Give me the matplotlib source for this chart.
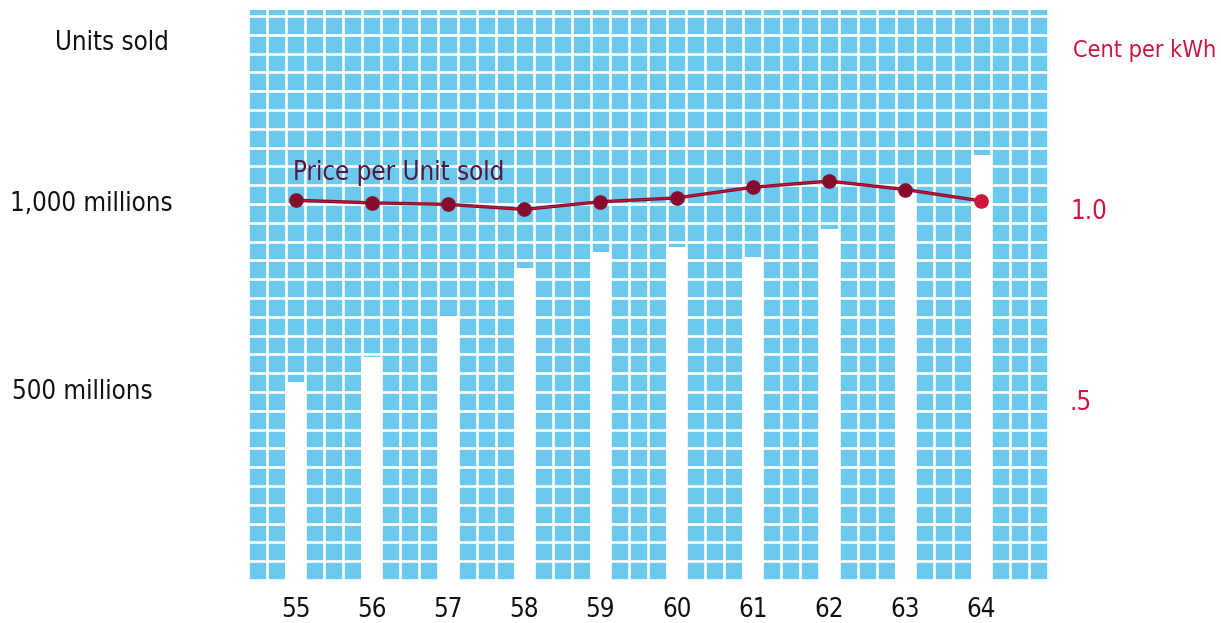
import matplotlib.pyplot as plt
import matplotlib.transforms as mtransforms
from matplotlib.ticker import MultipleLocator

# Datos
years = [55, 56, 57, 58, 59, 60, 61, 62, 63, 64]
year_labels = ["55", "56", "57", "58", "59", "60", "61", "62", "63", "64"]
units_sold = [527, 593, 702, 830, 872, 886, 859, 934, 1032, 1130]   # millions
price = [1.031, 1.024, 1.020, 1.007, 1.027, 1.037, 1.065, 1.081, 1.059, 1.029]  # cent per kWh

BLUE = "#6ac9ed"
RED = "#d0143c"
DARK = "#850c2c"
PURPLE = "#55163f"

plt.rcParams['font.family'] = ['DejaVu Sans']
FONT = dict(fontstretch='condensed', fontsize=18.5)

W, H = 1221, 623
fig = plt.figure(figsize=(W / 100, H / 100), dpi=100)

# axes ocupa el area azul (pixeles 248..1050 x 10..580)
ax = fig.add_axes([248 / W, 1 - 580 / H, (1050 - 248) / W, (580 - 10.4) / H])
ax.set_facecolor(BLUE)
ax.set_xlim(54.375, 64.9)
ax.set_ylim(0, 1515)

# cuadricula blanca
ax.xaxis.set_minor_locator(MultipleLocator(0.25, offset=0.125))
ax.yaxis.set_minor_locator(MultipleLocator(50))
ax.grid(which='minor', color='white', linewidth=1.9)
ax.set_axisbelow(True)
for s in ax.spines.values():
    s.set_visible(False)
ax.tick_params(which='both', length=0)
ax.set_yticks([])
ax.set_xticks(years)
ax.set_xticklabels(year_labels, color='#111111', **FONT)
ax.tick_params(axis='x', pad=12)

# barras blancas
ax.bar(years, units_sold, width=0.276, color='white', zorder=3)

# eje derecho: precio
ax2 = ax.twinx()
ax2.set_ylim(0.0366, 1.528)
for s in ax2.spines.values():
    s.set_visible(False)
ax2.set_yticks([])
ax2.plot(years, price, color=DARK, linewidth=2.4, zorder=4)
ax2.plot(years, price, color=RED, linewidth=0.8, zorder=4)
ax2.plot(years[:-1], price[:-1], 'o', color=DARK, markersize=9.5, zorder=5)
ax2.plot(years[-1:], price[-1:], 'o', color=RED, markersize=9.5, zorder=5)
ax2.text(54.97, 1.103, "Price per Unit sold", color=PURPLE, va='center', ha='left', **FONT)

# textos del eje izquierdo
tl = mtransforms.blended_transform_factory(fig.transFigure, ax.transData)
fig.text(55 / W, 1 - 43 / H, "Units sold", color='#111111', va='center', ha='left', **FONT)
fig.text(10 / W, 1000, "1,000 millions", transform=tl, color='#111111', va='center', ha='left', **FONT)
fig.text(12 / W, 500, "500 millions", transform=tl, color='#111111', va='center', ha='left', **FONT)

# textos del eje derecho
tr = mtransforms.blended_transform_factory(fig.transFigure, ax2.transData)
fig.text(1216 / W, 1 - 50 / H, "Cent per kWh", color=RED, va='center', ha='right',
         fontstretch='condensed', fontsize=16.8)
fig.text(1070 / W, 1.0, "1.0", transform=tr, color=RED, va='center', ha='left', **FONT)
fig.text(1070 / W, 0.5, ".5", transform=tr, color=RED, va='center', ha='left', **FONT)

fig.savefig("out.png", dpi=100, facecolor='white')
